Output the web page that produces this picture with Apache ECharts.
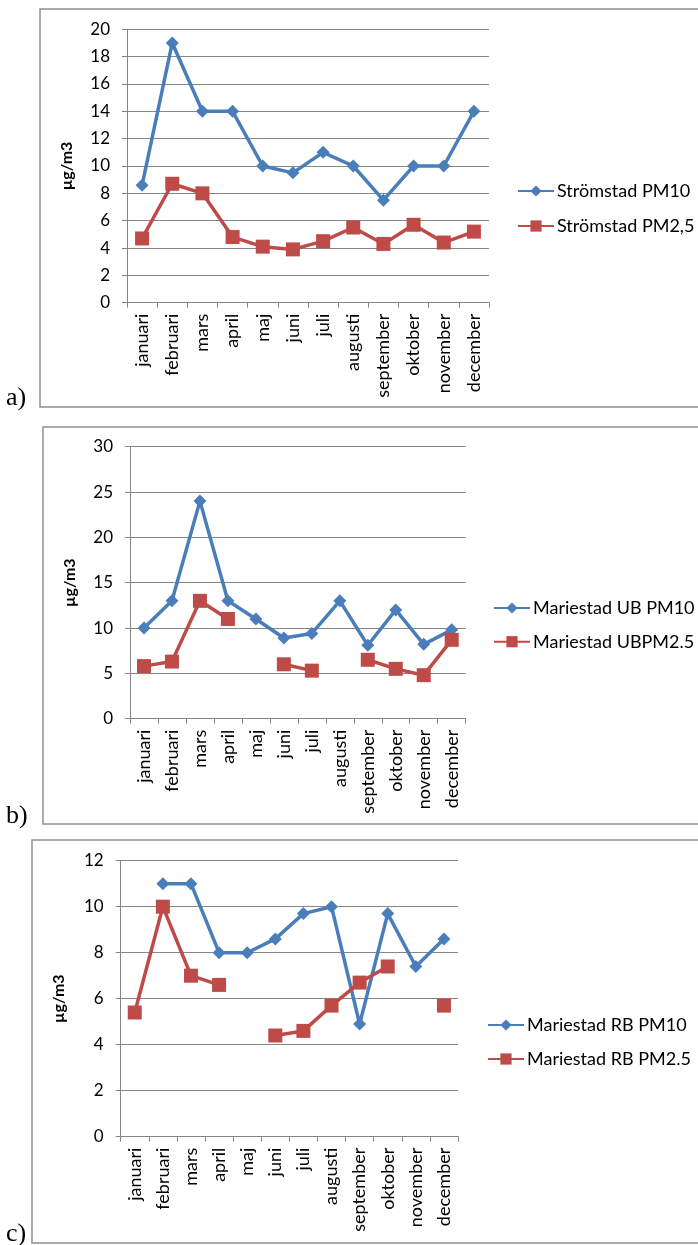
<!DOCTYPE html>
<html>
<head>
<meta charset="utf-8">
<script src="https://cdn.jsdelivr.net/npm/echarts@6/dist/echarts.min.js"></script>
<style>
html,body{margin:0;padding:0;background:#fff;}
#c{width:698px;height:1245px;}
</style>
</head>
<body>
<div id="c"></div>
<script>
var months = ['januari','februari','mars','april','maj','juni','juli','augusti','september','oktober','november','december'];

var stromstadPM10 = [8.6, 19, 14, 14, 10, 9.5, 11, 10, 7.5, 10, 10, 14];
var stromstadPM25 = [4.7, 8.7, 8.0, 4.8, 4.1, 3.9, 4.5, 5.5, 4.3, 5.7, 4.4, 5.2];

var mariestadUBPM10 = [10, 13, 24, 13, 11, 8.9, 9.4, 13, 8.1, 12, 8.2, 9.8];
var mariestadUBPM25 = [5.8, 6.3, 13, 11, null, 6.0, 5.3, null, 6.5, 5.5, 4.8, 8.7];

var mariestadRBPM10 = [null, 11, 11, 8, 8, 8.6, 9.7, 10, 4.9, 9.7, 7.4, 8.6];
var mariestadRBPM25 = [5.4, 10, 7.0, 6.6, null, 4.4, 4.6, 5.7, 6.7, 7.4, null, 5.7];

var names = [
  ['Strömstad PM10', 'Strömstad PM2,5'],
  ['Mariestad UB PM10', 'Mariestad UBPM2.5'],
  ['Mariestad RB PM10', 'Mariestad RB PM2.5']
];
var yMax = [20, 30, 12];
var yInterval = [2, 5, 2];

var BLUE = '#4A7EBB', RED = '#BE4B48', GRID = '#868686';
var FONT = 'Lato';

var grids = [
  {left: 127, top: 29.3, width: 362, height: 273.4},
  {left: 130, top: 446.7, width: 335.7, height: 272},
  {left: 120.7, top: 860.7, width: 337.3, height: 276}
];
var legendPos = [
  {left: 512, top: 177, gap: 17},
  {left: 488, top: 594, gap: 15.7},
  {left: 482, top: 1011, gap: 16}
];
var nameGaps = [52, 52, 54];

var chart = echarts.init(document.getElementById('c'), null, {renderer: 'canvas'});

var xAxes = [], yAxes = [], series = [], legends = [];
var dataSets = [[stromstadPM10, stromstadPM25],[mariestadUBPM10, mariestadUBPM25],[mariestadRBPM10, mariestadRBPM25]];

for (var i = 0; i < 3; i++) {
  xAxes.push({
    type: 'category', gridIndex: i, data: months, boundaryGap: true,
    axisLine: {lineStyle: {color: GRID, width: 1}},
    axisTick: {show: true, length: 5, lineStyle: {color: GRID}},
    axisLabel: {rotate: 90, color: '#000', fontFamily: FONT, fontSize: 18, margin: 11, interval: 0}
  });
  yAxes.push({
    type: 'value', gridIndex: i, min: 0, max: yMax[i], interval: yInterval[i],
    name: 'µg/m3', nameLocation: 'middle', nameRotate: 90, nameGap: nameGaps[i],
    nameTextStyle: {color: '#000', fontFamily: FONT, fontSize: 16, fontWeight: 'bold'},
    axisLine: {show: true, lineStyle: {color: GRID, width: 1}},
    axisTick: {show: true, length: 5, lineStyle: {color: GRID}},
    splitLine: {show: true, lineStyle: {color: GRID, width: 1}},
    axisLabel: {color: '#000', fontFamily: FONT, fontSize: 17, margin: 17}
  });
  series.push({
    name: names[i][0], type: 'line', xAxisIndex: i, yAxisIndex: i,
    data: dataSets[i][0], symbol: 'diamond', symbolSize: 13, showAllSymbol: true,
    lineStyle: {color: BLUE, width: 3.5}, itemStyle: {color: BLUE},
    connectNulls: false, animation: false
  });
  series.push({
    name: names[i][1], type: 'line', xAxisIndex: i, yAxisIndex: i,
    data: dataSets[i][1], symbol: 'rect', symbolSize: 14, showAllSymbol: true,
    lineStyle: {color: RED, width: 3.5}, itemStyle: {color: RED},
    connectNulls: false, animation: false
  });
  legends.push({
    data: names[i], orient: 'vertical', left: legendPos[i].left, top: legendPos[i].top,
    itemGap: legendPos[i].gap, itemWidth: 36, itemHeight: 14,
    textStyle: {color: '#000', fontFamily: FONT, fontSize: 18, lineHeight: 18, padding: [0,0,0,-2]},
    selectedMode: false
  });
}

var FR = '#8E8E8E';
function frame(l, t, b) {
  return {type: 'polyline', shape: {points: [[710, t], [l, t], [l, b], [710, b]]},
          style: {stroke: FR, lineWidth: 1.5, fill: null}, silent: true};
}
function lab(txt, x, y) {
  return {type: 'text', left: x, top: y, style: {text: txt, font: '26px "Liberation Serif"', fill: '#000'}};
}

chart.setOption({
  animation: false,
  backgroundColor: '#fff',
  grid: grids,
  xAxis: xAxes,
  yAxis: yAxes,
  legend: legends,
  series: series,
  graphic: [
    frame(40, 9, 407), frame(43, 427, 824), frame(32, 840, 1243),
    lab('a)', 6, 385), lab('b)', 6, 803), lab('c)', 6, 1221)
  ]
});
</script>
</body>
</html>
